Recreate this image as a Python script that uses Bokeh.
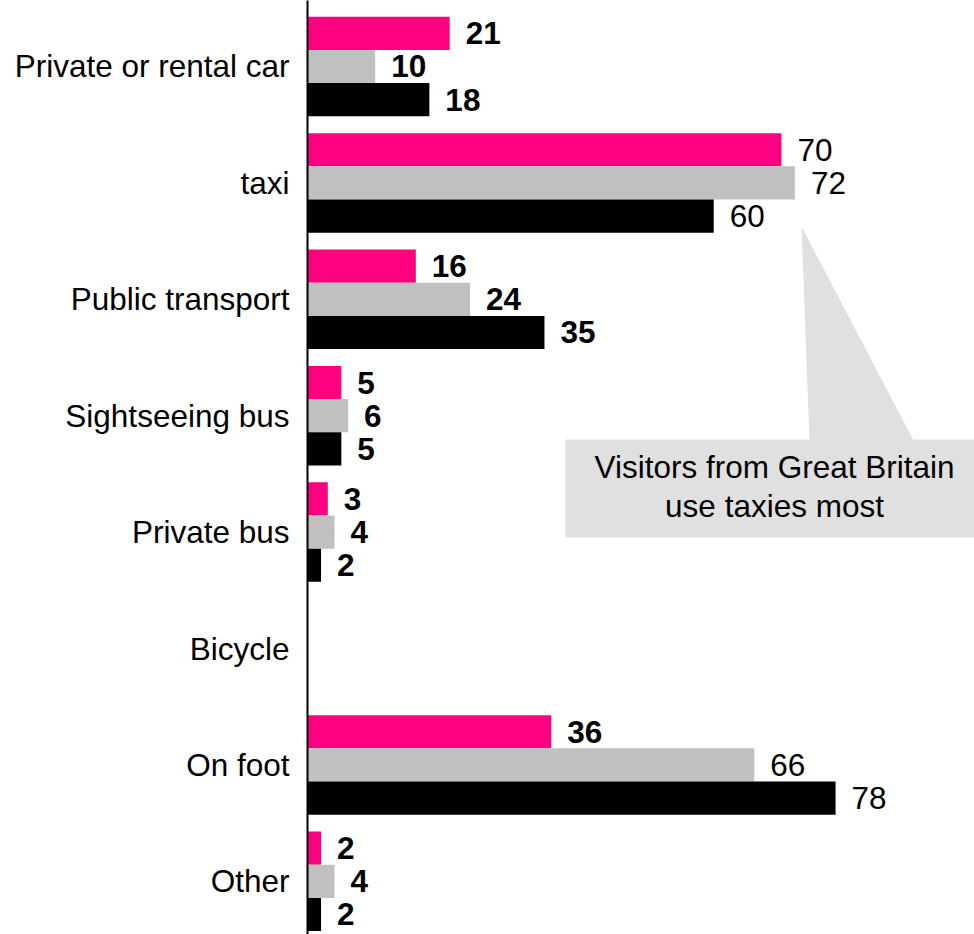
from bokeh.plotting import figure
from bokeh.models import Range1d, FixedTicker, ColumnDataSource
from bokeh.core.properties import value
from bokeh.embed import file_html
from bokeh.resources import INLINE

# ---- data ----
categories = ["Private or rental car", "taxi", "Public transport", "Sightseeing bus",
              "Private bus", "Bicycle", "On foot", "Other"]
series_pink = [21, 70, 16, 5, 3, 0, 36, 2]
series_grey = [10, 72, 24, 6, 4, 0, 66, 4]
series_black = [18, 60, 35, 5, 2, 0, 78, 2]
callout_lines = ["Visitors from Great Britain", "use taxies most"]

FONT = "Liberation Sans"
FS = "31.5px"

p = figure(width=974, height=934, output_backend="svg", toolbar_location=None,
           x_range=Range1d(0, 98.52), y_range=Range1d(7.457, -0.567),
           x_axis_location=None, min_border_left=307, min_border_right=0,
           min_border_top=0, min_border_bottom=0)
p.outline_line_color = None
p.xgrid.visible = False
p.ygrid.visible = False
p.background_fill_color = "white"
p.border_fill_color = "white"

# callout (drawn first so bars sit above)
p.quad(left=38.1, right=110, top=3.204, bottom=4.044, fill_color="#E0E0E0", line_color=None)
p.patch(x=[72.97, 74.15, 89.5], y=[1.375, 3.21, 3.21], fill_color="#E0E0E0", line_color=None)
p.text(x=[68.98, 68.98], y=[3.44, 3.777], text=callout_lines,
       text_font=value(FONT), text_font_size=FS, text_align="center",
       text_baseline="middle", text_color="black")

bar_h = 0.285
series = [(series_pink, "#FF0080", -0.285), (series_grey, "#C0C0C0", 0.0),
          (series_black, "#000000", 0.285)]
for vals, color, off in series:
    ys = [i + off for i in range(len(categories))]
    src = ColumnDataSource(dict(y=[y for y, v in zip(ys, vals) if v > 0],
                                v=[v for v in vals if v > 0]))
    p.hbar(y="y", right="v", left=0, height=bar_h, source=src,
           fill_color=color, line_color=None)
    bold = dict(y=[], v=[], t=[])
    norm = dict(y=[], v=[], t=[])
    for y, v in zip(ys, vals):
        if v <= 0:
            continue
        d = norm if v >= 50 else bold
        d["y"].append(y); d["v"].append(v); d["t"].append(str(v))
    for d, style in ((bold, "bold"), (norm, "normal")):
        p.text(x="v", y="y", text="t", source=ColumnDataSource(d), x_offset=16,
               text_font=value(FONT), text_font_size=FS, text_font_style=style,
               text_align="left", text_baseline="middle", text_color="black")

ax = p.yaxis[0]
ax.ticker = FixedTicker(ticks=list(range(len(categories))))
ax.major_label_overrides = {i: c for i, c in enumerate(categories)}
ax.major_label_text_font = FONT
ax.major_label_text_font_size = FS
ax.major_label_text_color = "black"
ax.major_label_standoff = 18
ax.major_tick_line_color = None
ax.minor_tick_line_color = None
ax.major_tick_out = 0
ax.major_tick_in = 0
ax.axis_line_color = "black"
ax.axis_line_width = 2

open("out.html", "w").write(file_html(p, INLINE))
